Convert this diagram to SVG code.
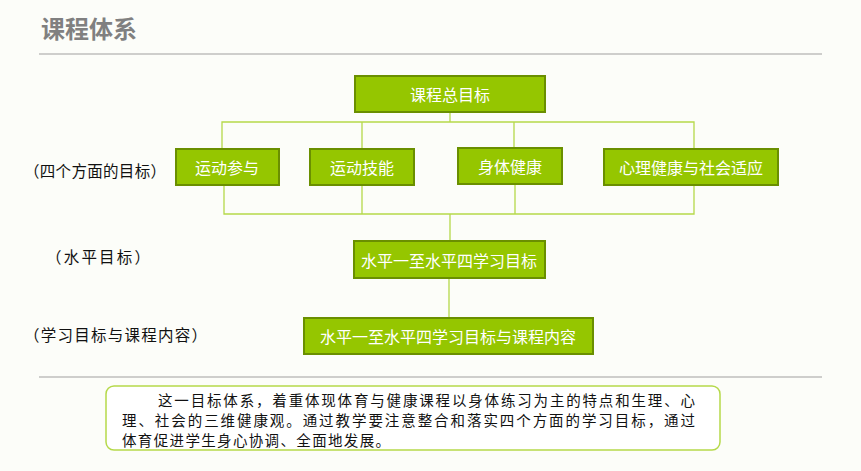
<svg xmlns="http://www.w3.org/2000/svg" width="861" height="471" viewBox="0 0 861 471">
<style>
text{font-family:"Noto Sans CJK SC","Liberation Sans",sans-serif}
.box{fill:#95c600;stroke:#6a8f00;stroke-width:2}
.bt{fill:#fff;font-size:16px;text-anchor:middle;dominant-baseline:central}
.lbl{fill:#111;font-size:15.5px}
.c{stroke:#b5d94a;stroke-width:1.3;fill:none}
</style>
<rect width="861" height="471" fill="#fcfdf9"/>
<text x="41" y="38" font-size="24" font-weight="bold" fill="#808080">课程体系</text>
<line x1="39" y1="54" x2="822" y2="54" stroke="#a0a0a0" stroke-width="1.2"/>
<line x1="39" y1="377" x2="822" y2="377" stroke="#a0a0a0" stroke-width="1.2"/>
<g id="connectors" class="c">
<path d="M450 112V122M222 150V122H694V150M362 122V150M514 122V148"/>
<path d="M224 185V214H694V185M362 185V214M515 184V214M450 214V241M449 278V318"/>
</g>
<g id="n0"><rect class="box" x="355" y="76" width="190" height="36"/><text class="bt" x="450" y="94">课程总目标</text></g>
<g id="n1"><rect class="box" x="176" y="149" width="103" height="36"/><text class="bt" x="227" y="167">运动参与</text></g>
<g id="n2"><rect class="box" x="310" y="149" width="104" height="36"/><text class="bt" x="362" y="167">运动技能</text></g>
<g id="n3"><rect class="box" x="458" y="148" width="104" height="36"/><text class="bt" x="510" y="166">身体健康</text></g>
<g id="n4"><rect class="box" x="604" y="149" width="174" height="36"/><text class="bt" x="691" y="167">心理健康与社会适应</text></g>
<g id="n5"><rect class="box" x="354" y="241" width="191" height="37"/><text class="bt" x="449" y="260">水平一至水平四学习目标</text></g>
<g id="n6"><rect class="box" x="304" y="318" width="289" height="36"/><text class="bt" x="448" y="336">水平一至水平四学习目标与课程内容</text></g>
<text class="lbl" x="24" y="177" textLength="142">（四个方面的目标）</text>
<text class="lbl" x="46" y="263" textLength="104">（水平目标）</text>
<text class="lbl" x="24" y="341" textLength="183">（学习目标与课程内容）</text>
<g id="note">
<rect x="106" y="386" width="614" height="64" rx="8" fill="#fff" stroke="#b5d94a" stroke-width="1.5"/>
<g font-size="14.5" fill="#111">
<text x="158" y="406" textLength="537">这一目标体系，着重体现体育与健康课程以身体练习为主的特点和生理、心</text>
<text x="122" y="426" textLength="573">理、社会的三维健康观。通过教学要注意整合和落实四个方面的学习目标，通过</text>
<text x="122" y="446" textLength="268">体育促进学生身心协调、全面地发展。</text>
</g>
</g>
</svg>
